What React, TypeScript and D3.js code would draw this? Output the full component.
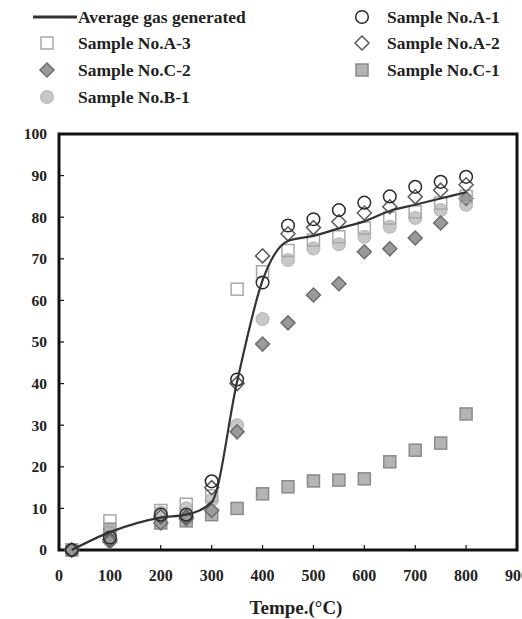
import * as d3 from "d3";

const temps = [25, 100, 200, 250, 300, 350, 400, 450, 500, 550, 600, 650, 700, 750, 800];

const average = [0, 4.3, 7.8, 8.5, 11.5, 40.5, 64.8, 74.3, 75.5, 77.3, 79, 81.5, 83, 84.5, 86];
const sampleA1 = [0, 3, 8.5, 8.5, 16.5, 41, 64.3, 78, 79.5, 81.7, 83.5, 85, 87.3, 88.5, 89.7];
const sampleA2 = [0, 2.5, 8, 8, 15, 40, 70.7, 76, 77.5, 78.9, 81, 82.5, 84.9, 86.5, 87.8];
const sampleA3 = [0, 7, 9.5, 11, 13, 62.7, 66.9, 72, 74.5, 75.3, 77.4, 79.8, 81.3, 83.4, 85];
const sampleC2 = [0, 2, 6.5, 7.5, 9.5, 28.4, 49.5, 54.6, 61.3, 64, 71.7, 72.4, 75, 78.6, 84.5];
const sampleC1 = [0, 5, 6.5, 7, 8.5, 10, 13.5, 15.2, 16.6, 16.8, 17.1, 21.2, 24, 25.7, 32.7];
const sampleB1 = [0, 4.5, 9, 10, 12, 30, 55.5, 69.7, 72.5, 73.5, 75.3, 77.7, 79.8, 81.7, 83];

const xTicks = [0, 100, 200, 300, 400, 500, 600, 700, 800, 900];
const yTicks = [0, 10, 20, 30, 40, 50, 60, 70, 80, 90, 100];

type Shape = "circle" | "square" | "diamond";
type Series = { name: string; values: number[]; shape: Shape; fill: string; stroke: string };

const series: Series[] = [
  { name: "Sample No.B-1", values: sampleB1, shape: "circle", fill: "#c8c8c8", stroke: "#bdbdbd" },
  { name: "Sample No.C-1", values: sampleC1, shape: "square", fill: "#b4b4b4", stroke: "#8a8a8a" },
  { name: "Sample No.C-2", values: sampleC2, shape: "diamond", fill: "#9a9a9a", stroke: "#6e6e6e" },
  { name: "Sample No.A-3", values: sampleA3, shape: "square", fill: "none", stroke: "#a8a8a8" },
  { name: "Sample No.A-2", values: sampleA2, shape: "diamond", fill: "none", stroke: "#5a5a5a" },
  { name: "Sample No.A-1", values: sampleA1, shape: "circle", fill: "none", stroke: "#2a2a2a" },
];

const FONT = "'Liberation Serif', 'Times New Roman', serif";

function Marker({ shape, x, y, fill, stroke }: { shape: Shape; x: number; y: number; fill: string; stroke: string }) {
  if (shape === "circle") return <circle cx={x} cy={y} r={6.3} fill={fill} stroke={stroke} strokeWidth={1.5} />;
  if (shape === "square")
    return <rect x={x - 6} y={y - 6} width={12} height={12} fill={fill} stroke={stroke} strokeWidth={1.5} />;
  const s = 7;
  return (
    <path d={`M${x},${y - s}L${x + s},${y}L${x},${y + s}L${x - s},${y}Z`} fill={fill} stroke={stroke} strokeWidth={1.5} />
  );
}

export default function App() {
  const x = d3.scaleLinear().domain([0, 900]).range([59, 517]);
  const y = d3.scaleLinear().domain([0, 100]).range([550, 134]);

  const line = d3
    .line<number>()
    .x((_, i) => x(temps[i]))
    .y((d) => y(d))
    .curve(d3.curveMonotoneX);

  const byName = (n: string) => series.find((s) => s.name === n)!;
  const legendLeft = [
    { s: byName("Sample No.A-3"), y: 43 },
    { s: byName("Sample No.C-2"), y: 70 },
    { s: byName("Sample No.B-1"), y: 97 },
  ];
  const legendRight = [
    { s: byName("Sample No.A-1"), y: 17 },
    { s: byName("Sample No.A-2"), y: 43 },
    { s: byName("Sample No.C-1"), y: 70 },
  ];

  return (
    <svg width={522} height={619} style={{ position: "absolute", left: 0, top: 0, background: "#fff" }} fontFamily={FONT}>
      {/* legend */}
      <g fontWeight="bold" fontSize={17.5} fill="#222">
        <line x1={33} x2={77} y1={17} y2={17} stroke="#333" strokeWidth={3} />
        <text x={78} y={17} dy="0.35em">Average gas generated</text>
        {legendLeft.map((l) => (
          <g key={l.s.name}>
            <Marker shape={l.s.shape} x={47} y={l.y} fill={l.s.fill} stroke={l.s.stroke} />
            <text x={78} y={l.y} dy="0.35em">{l.s.name}</text>
          </g>
        ))}
        {legendRight.map((l) => (
          <g key={l.s.name}>
            <Marker shape={l.s.shape} x={362} y={l.y} fill={l.s.fill} stroke={l.s.stroke} />
            <text x={387} y={l.y} dy="0.35em">{l.s.name}</text>
          </g>
        ))}
      </g>

      {/* frame */}
      <rect x={x(0)} y={y(100)} width={x(900) - x(0)} height={y(0) - y(100)} fill="none" stroke="#111" strokeWidth={3} />

      {/* ticks */}
      {yTicks.map((t) => (
        <g key={"y" + t}>
          <line x1={x(0)} x2={x(0) + 5} y1={y(t)} y2={y(t)} stroke="#111" strokeWidth={1.2} />
          <text x={47} y={y(t)} dy="0.35em" textAnchor="end" fontWeight="bold" fontSize={15.5} fill="#222">
            {t}
          </text>
        </g>
      ))}
      {xTicks.map((t) => (
        <g key={"x" + t}>
          <line x1={x(t)} x2={x(t)} y1={y(0)} y2={y(0) - 5} stroke="#111" strokeWidth={1.2} />
          <text x={x(t)} y={575} dy="0.35em" textAnchor="middle" fontWeight="bold" fontSize={16} fill="#222">
            {t}
          </text>
        </g>
      ))}
      <text x={296} y={607} dy="0.35em" textAnchor="middle" fontWeight="bold" fontSize={19} fill="#222">
        Tempe.(°C)
      </text>

      {/* markers */}
      {series.map((s) => (
        <g key={s.name}>
          {s.values.map((v, i) => (
            <Marker key={i} shape={s.shape} x={x(temps[i])} y={y(v)} fill={s.fill} stroke={s.stroke} />
          ))}
        </g>
      ))}

      {/* average line */}
      <path d={line(average) ?? ""} fill="none" stroke="#333" strokeWidth={2.2} />
    </svg>
  );
}
